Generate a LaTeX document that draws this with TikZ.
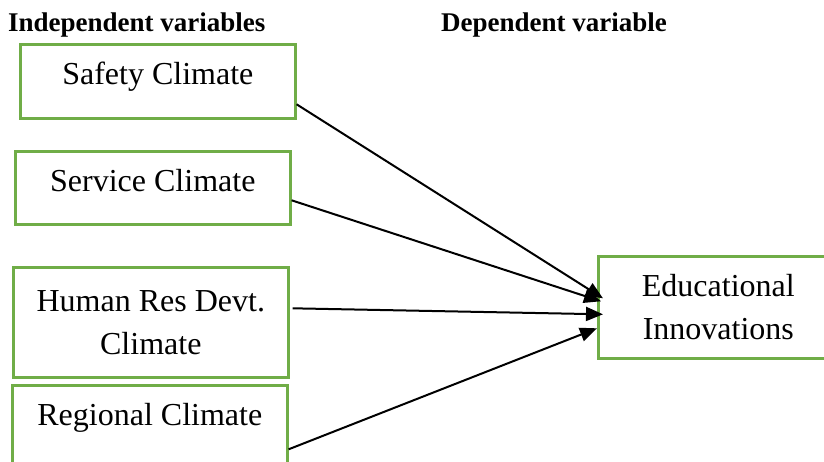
\documentclass[tikz,border=0pt]{standalone}
\usepackage{fontspec}
\setmainfont{Liberation Serif}
\usetikzlibrary{arrows.meta,positioning}
\definecolor{boxgreen}{RGB}{112,173,71}

\begin{document}
\begin{tikzpicture}[x=1pt, y=-1pt,
    varbox/.style={draw=boxgreen, line width=2.6pt, inner sep=0pt, align=center,
      minimum width=275pt, anchor=north west, font=\fontsize{32}{43}\selectfont},
    headtext/.style={font=\bfseries\fontsize{27}{32}\selectfont, anchor=base west, inner sep=0pt},
    link/.style={line width=2pt, -{Triangle[length=17pt,width=14pt]}}]
  \useasboundingbox (0,0) rectangle (824,461);
  % column headings
  \node[headtext] (indep) at (8,31) {Independent variables};
  \node[headtext] (dep) at (441,31) {Dependent variable};
  % independent variables (left column)
  \node[varbox, minimum height=74pt, text depth=16pt] (safety) at (19,43) {Safety Climate};
  \node[varbox, minimum height=73pt, text depth=15pt] (service) at (14,150) {Service Climate};
  \node[varbox, minimum height=110pt] (humanres) at (12,266) {Human Res Devt.\\Climate};
  \node[varbox, minimum height=91pt, text depth=33pt] (regional) at (11,384) {Regional Climate};
  % dependent variable, runs off the right edge
  \node[varbox, minimum width=240pt, minimum height=102pt] (edu) at (597,255) {Educational\\Innovations};
  % arrows into the dependent variable
  \draw[link] ([yshift=-23pt]safety.east) -- ([xshift=6pt,yshift=9pt]edu.west);
  \draw[link] ([yshift=-12.5pt]service.east) -- ([xshift=4pt,yshift=6pt]edu.west);
  \draw[link] ([xshift=3pt,yshift=14pt]humanres.east) -- ([xshift=6pt,yshift=-7pt]edu.west);
  \draw[link] ([yshift=-18.5pt]regional.east) -- ([yshift=-21pt]edu.west);
\end{tikzpicture}
\end{document}
